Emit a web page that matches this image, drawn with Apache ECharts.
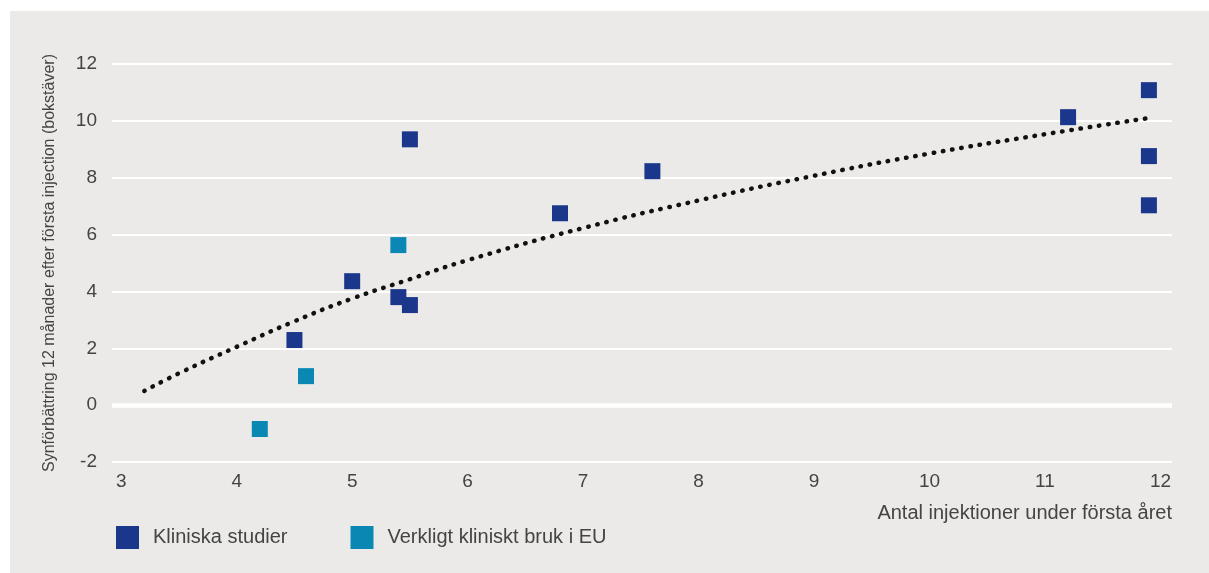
<!DOCTYPE html>
<html>
<head>
<meta charset="utf-8">
<title>Synförbättring</title>
<script src="https://cdn.jsdelivr.net/npm/echarts@6.0.0/dist/echarts.min.js"></script>
<style>
  html, body { margin: 0; padding: 0; background: #fff; }
  #chart { position: absolute; left: 10px; top: 11px; width: 1199px; height: 562px; background: #ebeae8; }
</style>
</head>
<body>
<div id="chart"></div>
<script>
// kliniska studier
var studyX = [5.5, 7.6, 6.8, 5.0, 5.4, 5.5, 4.5, 11.9, 11.2, 11.9, 11.9];
var studyY = [9.35, 8.23, 6.75, 4.36, 3.8, 3.52, 2.29, 11.08, 10.13, 8.76, 7.03];
// verkligt kliniskt bruk i EU
var euX = [5.4, 4.6, 4.2];
var euY = [5.63, 1.02, -0.84];
// trendlinje (avläst)
var trendX = [3.2, 3.5, 4, 4.5, 5, 5.5, 6, 7, 8, 9, 10, 11, 11.9];
var trendY = [0.5, 1.12, 2.05, 2.95, 3.75, 4.43, 5.1, 6.23, 7.2, 8.07, 8.85, 9.53, 10.1];
var xTicks = [3, 4, 5, 6, 7, 8, 9, 10, 11, 12];

var font = 'Liberation Sans, Arial, sans-serif',
  textColor = '#444';

function pairs(xs, ys) {
  var out = [];
  for (var i = 0; i < xs.length; i++) {
    out.push([xs[i], ys[i]]);
  }
  return out;
}

var chart = echarts.init(document.getElementById('chart'));

var option = {
  animation: false,
  textStyle: { fontFamily: font },
  grid: { left: 102, right: 37, top: 53, bottom: 111 },
  legend: {
    left: 106,
    top: 515,
    padding: 0,
    data: ['Kliniska studier', 'Verkligt kliniskt bruk i EU'],
    icon: 'rect',
    itemWidth: 23,
    itemHeight: 23,
    itemGap: 63,
    textStyle: { fontFamily: font, fontSize: 20, color: textColor, padding: [0, 0, 0, 9] }
  },
  xAxis: {
    type: 'value',
    min: 2.92,
    max: 12.1,
    name: 'Antal injektioner under första året',
    nameLocation: 'end',
    nameGap: 0,
    nameTextStyle: {
      fontFamily: font, fontSize: 20, color: textColor,
      align: 'right', verticalAlign: 'top', padding: [41, 0, 0, 0]
    },
    axisLine: { show: false, onZero: false },
    axisTick: { show: false },
    splitLine: { show: false },
    axisLabel: {
      customValues: xTicks,
      fontSize: 19,
      color: textColor,
      margin: 10
    }
  },
  yAxis: {
    type: 'value',
    min: -2,
    max: 12,
    interval: 2,
    name: 'Synförbättring 12 månader efter första injection (bokstäver)',
    nameLocation: 'middle',
    nameRotate: 90,
    nameGap: 54,
    nameTextStyle: { fontFamily: font, fontSize: 16, color: textColor },
    axisLine: { show: false },
    axisTick: { show: false },
    axisLabel: { fontSize: 19, color: textColor, margin: 15 },
    splitLine: { lineStyle: { color: '#ffffff', width: 2 } }
  },
  series: [{
    name: 'trend',
    type: 'line',
    data: pairs(trendX, trendY),
    smooth: true,
    showSymbol: false,
    silent: true,
    z: 1,
    lineStyle: { color: '#111', width: 4.5, type: [0.5, 8.8], cap: 'round' },
    markLine: {
      silent: true,
      symbol: 'none',
      label: { show: false },
      lineStyle: { color: '#ffffff', width: 4.5, type: 'solid' },
      data: [{ yAxis: 0 }]
    }
  }, {
    name: 'Kliniska studier',
    type: 'scatter',
    symbol: 'rect',
    symbolSize: 16,
    z: 3,
    itemStyle: { color: '#1b378c', opacity: 1 },
    data: pairs(studyX, studyY)
  }, {
    name: 'Verkligt kliniskt bruk i EU',
    type: 'scatter',
    symbol: 'rect',
    symbolSize: 16,
    z: 3,
    itemStyle: { color: '#0a88b3', opacity: 1 },
    data: pairs(euX, euY)
  }]
};

chart.setOption(option);
</script>
</body>
</html>
